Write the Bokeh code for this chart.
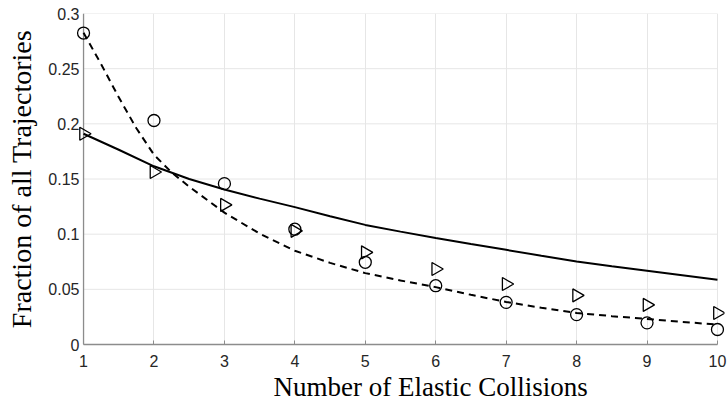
import math
from bokeh.plotting import figure
from bokeh.models import Range1d, FixedTicker, CustomJSTickFormatter, Title
from bokeh.embed import file_html
from bokeh.resources import INLINE

# ---- data ----
collisions = [1, 2, 3, 4, 5, 6, 7, 8, 9, 10]
circle_vals = [0.2823, 0.2030, 0.1458, 0.1045, 0.0745, 0.0533, 0.0382, 0.0271, 0.0196, 0.0136]
triangle_vals = [0.1910, 0.1563, 0.1265, 0.1030, 0.0835, 0.0684, 0.0548, 0.0445, 0.0359, 0.0286]

solid_x = [1, 1.5, 2, 2.5, 3, 3.5, 4, 4.5, 5, 5.5, 6, 6.5, 7, 7.5, 8, 8.5, 9, 9.5, 10]
solid_y = [0.1910, 0.1765, 0.1615, 0.1500, 0.1405, 0.1322, 0.1245, 0.1163, 0.1084, 0.1023,
           0.0966, 0.0910, 0.0858, 0.0805, 0.0753, 0.0710, 0.0668, 0.0627, 0.0587]

dashed_x = [1, 1.25, 1.5, 1.75, 2, 2.25, 2.5, 3, 3.5, 4, 4.5, 5, 5.5, 6, 6.5, 7, 7.5, 8, 8.5, 9, 9.5, 10]
dashed_y = [0.2825, 0.2540, 0.2240, 0.1960, 0.1720, 0.1560, 0.1430, 0.1195, 0.1005, 0.0850,
            0.0740, 0.0647, 0.0580, 0.0520, 0.0450, 0.0386, 0.0333, 0.0286, 0.0257, 0.0232,
            0.0205, 0.0180]

x_ticks = [1, 2, 3, 4, 5, 6, 7, 8, 9, 10]
y_ticks = [0, 0.05, 0.1, 0.15, 0.2, 0.25, 0.3]
y_tick_labels = ["0", "0.05", "0.1", "0.15", "0.2", "0.25", "0.3"]

x_title = "Number of Elastic Collisions"
y_title = "Fraction of all Trajectories"

AXIS_GRAY = "#8c8c8c"
GRID_GRAY = "#e6e6e6"

# ---- figure ----
p = figure(width=727, height=401,
           x_range=Range1d(0.9, 10.1), y_range=Range1d(0, 0.3),
           output_backend="svg", toolbar_location=None,
           min_border_left=76, min_border_right=3,
           min_border_top=13, min_border_bottom=4)
p.outline_line_color = None
p.background_fill_color = "white"
p.border_fill_color = "white"

# x axis
p.xaxis.ticker = FixedTicker(ticks=x_ticks)
p.xaxis.bounds = (x_ticks[0], x_ticks[-1])
p.xaxis.major_label_standoff = 10
p.xaxis.axis_line_color = AXIS_GRAY
p.xaxis.axis_line_width = 1.3
p.xaxis.major_tick_in = 4
p.xaxis.major_tick_out = 0
p.xaxis.major_tick_line_color = AXIS_GRAY

# y axis (labels in the left panel, line drawn at x = 1 below)
p.yaxis.ticker = FixedTicker(ticks=y_ticks)
p.yaxis.formatter = CustomJSTickFormatter(
    args=dict(tvals=y_ticks, tlabels=y_tick_labels),
    code="const i = tvals.findIndex(t => Math.abs(t - tick) < 1e-9); return i >= 0 ? tlabels[i] : '';")
p.yaxis.axis_line_color = None
p.yaxis.major_tick_line_color = None
p.yaxis.major_tick_in = 0
p.yaxis.major_tick_out = 0
p.yaxis.major_label_standoff = -3
p.yaxis.axis_label = y_title
p.yaxis.axis_label_standoff = 8
p.yaxis.axis_label_text_font = "Liberation Serif"
p.yaxis.axis_label_text_font_size = "28px"
p.yaxis.axis_label_text_font_style = "normal"
p.yaxis.axis_label_text_color = "black"

for ax in (p.xaxis[0], p.yaxis[0]):
    ax.minor_tick_line_color = None
    ax.major_label_text_font = "Liberation Sans"
    ax.major_label_text_font_size = "16px"
    ax.major_label_text_color = "#262626"

# x axis title, shifted right as in the reference
p.add_layout(Title(text=x_title, align="left", offset=197, standoff=0,
                   text_font="Liberation Serif", text_font_size="27px",
                   text_font_style="normal", text_color="black"), "below")

# grid
p.xgrid.grid_line_color = GRID_GRAY
p.xgrid.grid_line_width = 1
p.ygrid.visible = False
n = len(y_ticks)
p.segment(x0=[x_ticks[0]] * n, x1=[x_ticks[-1]] * n, y0=y_ticks, y1=y_ticks,
          line_color=GRID_GRAY, line_width=1, level="underlay")
# y axis line at x = 1
p.segment(x0=[x_ticks[0]], x1=[x_ticks[0]], y0=[y_ticks[0]], y1=[y_ticks[-1]],
          line_color=AXIS_GRAY, line_width=1.3)

# curves
p.line(solid_x, solid_y, line_color="black", line_width=2)
p.line(dashed_x, dashed_y, line_color="black", line_width=2, line_dash="7 5")

# markers
p.scatter(collisions, circle_vals, marker="circle", size=12,
          fill_color=None, line_color="black", line_width=1.3)
p.scatter(collisions, triangle_vals, marker="triangle", size=13, angle=-math.pi / 2,
          fill_color=None, line_color="black", line_width=1.3)

open("out.html", "w").write(file_html(p, INLINE))
